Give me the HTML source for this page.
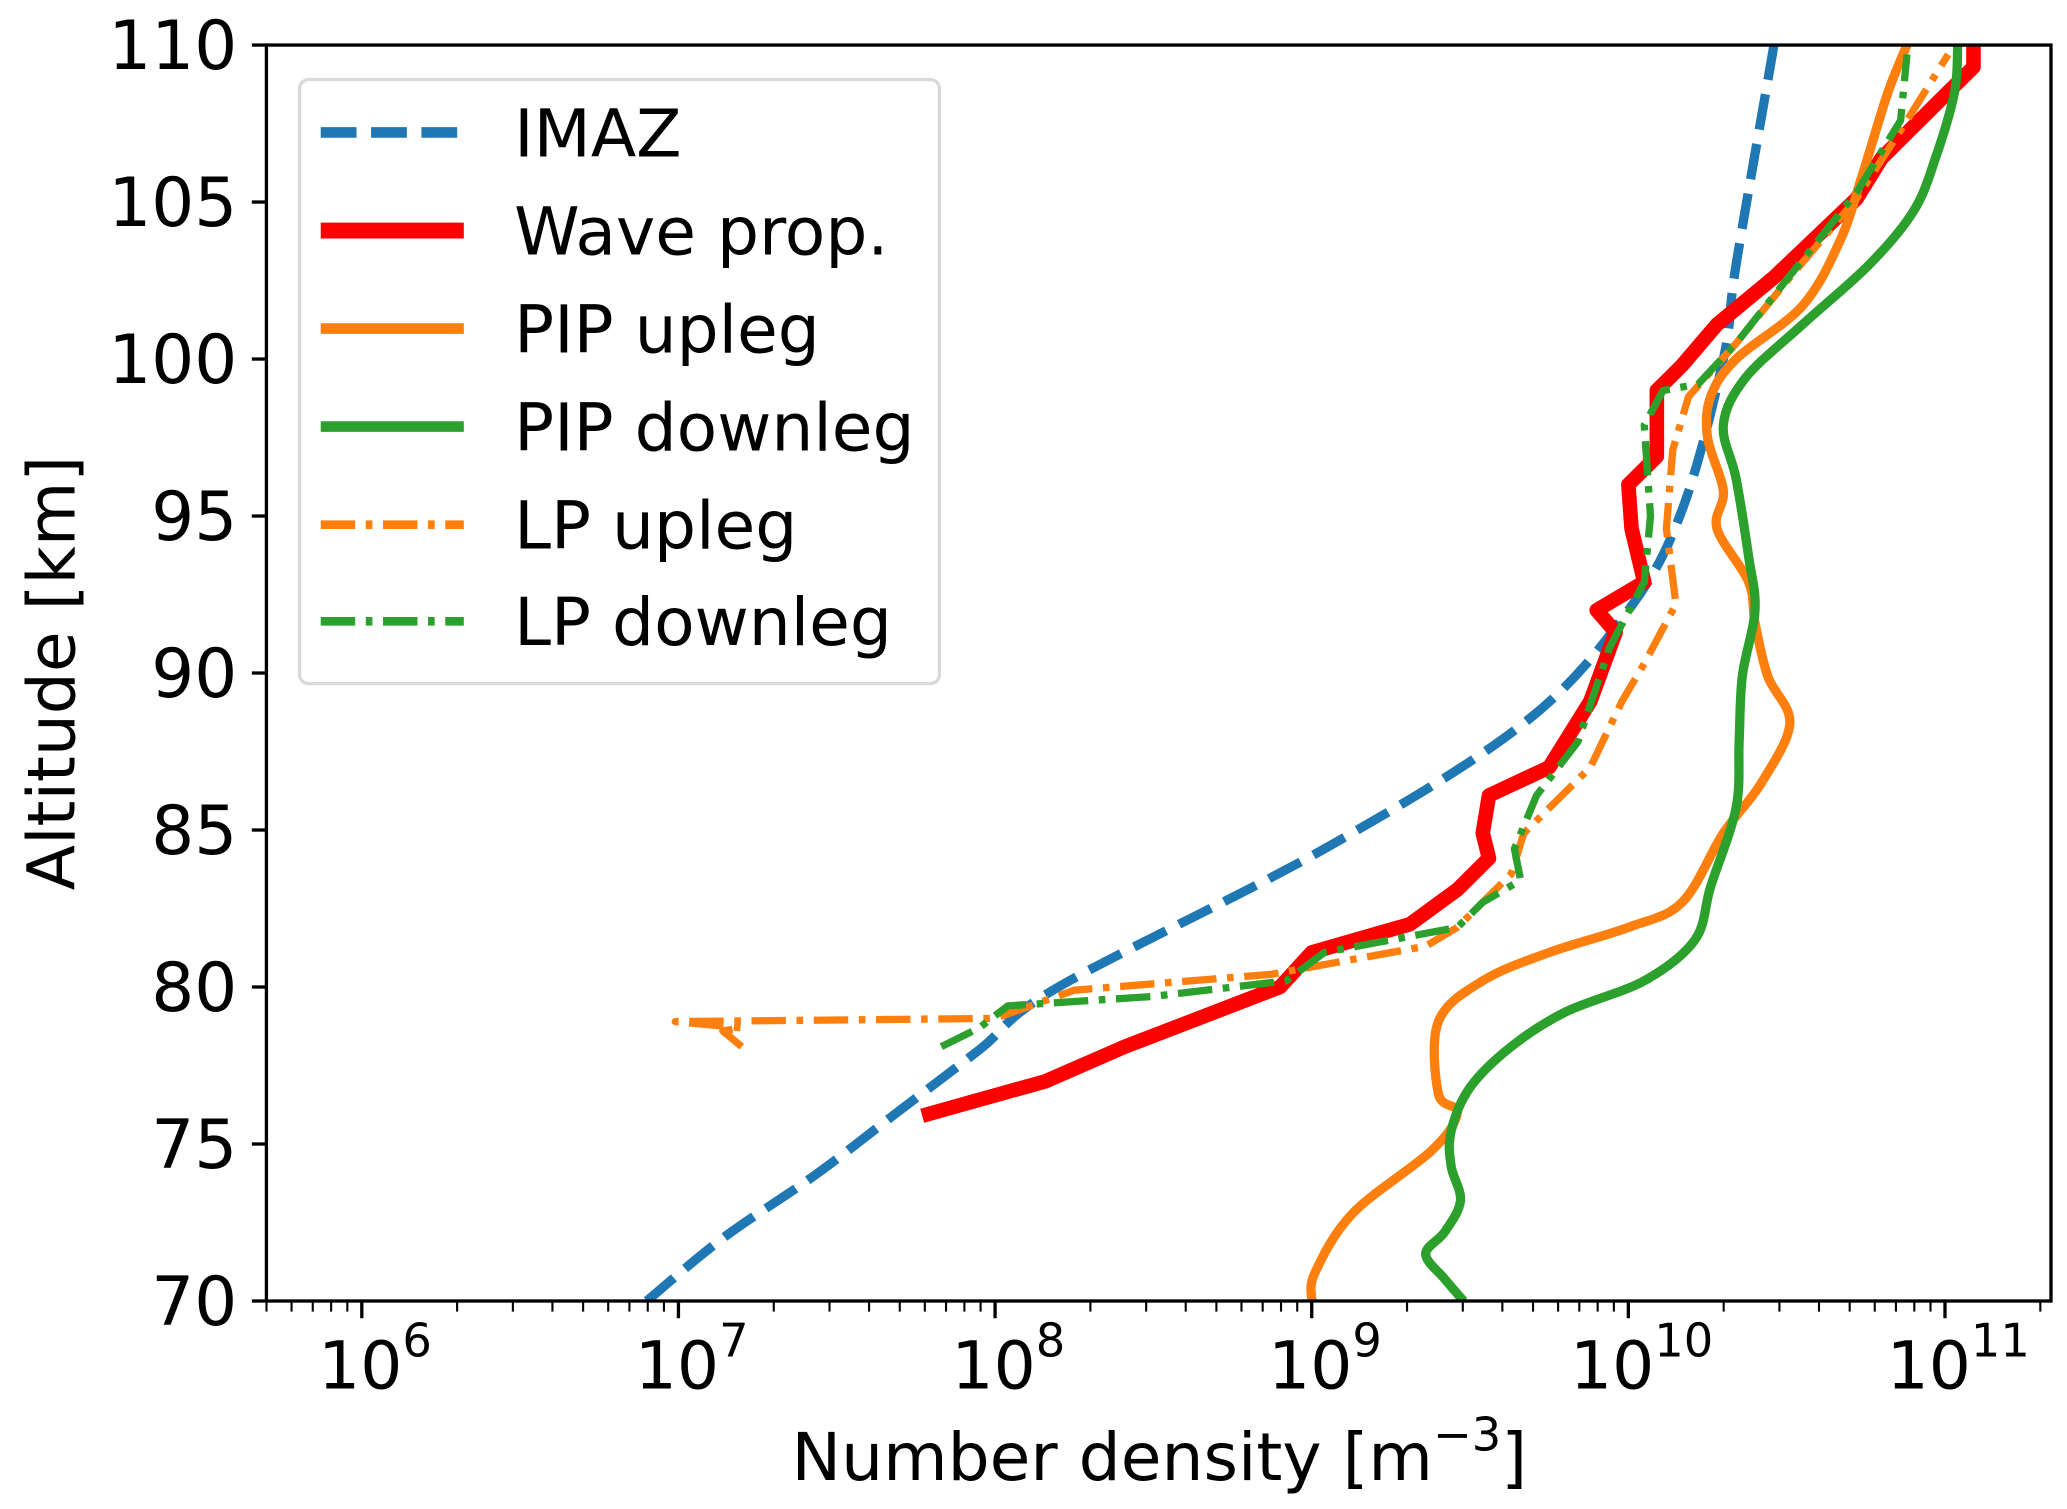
<!DOCTYPE html>
<html><head><meta charset="utf-8"><style>
html,body{margin:0;padding:0;background:#fff}
svg{display:block;font-family:"DejaVu Sans","Liberation Sans",sans-serif}
</style></head><body>
<svg id="chart" width="2067" height="1509" viewBox="0 0 1560 1139" xmlns="http://www.w3.org/2000/svg">
<rect width="1560" height="1139" fill="#fff"/>
<g id="plot"></g>
<g id="axes"></g>
<g id="legend"></g>
</svg>
<script>
// data: altitudes (km) and log10 number density (m^-3)
const imazAlt = [70, 72, 74, 76, 78, 80.0, 84.4, 88.4, 92.0, 95.2, 100.0, 103.0, 110];
const imazLog = [6.90, 7.14, 7.43, 7.69, 7.95, 8.20, 9.04, 9.67, 10.00, 10.17, 10.30, 10.34, 10.46];
const waveAlt = [75.9, 77.0, 78.1, 80.0, 81.1, 82.0, 83.1, 84.1, 84.9, 86.1, 87.0, 89.1, 91.3, 92.0, 92.9, 94.6, 96.0, 96.9, 99.0, 99.8, 101.1, 102.6, 105.1, 106.4, 108.1, 109.3, 110];
const waveLog = [7.77, 8.16, 8.41, 8.90, 9.00, 9.31, 9.46, 9.56, 9.54, 9.56, 9.75, 9.88, 9.96, 9.90, 10.05, 10.01, 10.00, 10.09, 10.09, 10.17, 10.28, 10.46, 10.72, 10.80, 10.97, 11.09, 11.09];
const pipUpAlt = [70, 70.9, 72.8, 74.8, 76.0, 76.6, 78.9, 80.2, 81.1, 81.9, 82.7, 84.9, 86.5, 88.4, 89.9, 91.6, 92.9, 94.6, 95.8, 97.5, 98.8, 100, 101.7, 103.8, 105.9, 108.5, 110];
const pipUpLog = [9.00, 9.01, 9.13, 9.38, 9.46, 9.40, 9.40, 9.54, 9.75, 10.00, 10.17, 10.30, 10.42, 10.51, 10.44, 10.40, 10.38, 10.28, 10.30, 10.25, 10.26, 10.34, 10.55, 10.67, 10.74, 10.82, 10.88];
const pipDnAlt = [70, 70.7, 71.5, 72.2, 73.2, 74.3, 75.4, 76.8, 78.1, 79.2, 80.2, 81.5, 83.2, 85.7, 87.8, 89.9, 92.0, 93.7, 96.2, 97.9, 99.4, 101.1, 103, 104.7, 106.4, 108.5, 110];
const pipDnLog = [9.48, 9.42, 9.36, 9.42, 9.47, 9.44, 9.44, 9.50, 9.63, 9.80, 10.05, 10.21, 10.26, 10.34, 10.35, 10.36, 10.40, 10.38, 10.34, 10.30, 10.37, 10.55, 10.76, 10.90, 10.97, 11.03, 11.04];
const lpUpAlt = [78.1, 78.6, 78.7, 78.9, 79.0, 79.9, 80.4, 81.3, 81.9, 83.6, 84.9, 85.7, 87.0, 89.1, 90.3, 92.2, 94.6, 97.1, 98.8, 100.5, 102.6, 105.1, 107.6, 109.7];
const lpUpLog = [7.20, 7.14, 7.20, 6.99, 8.00, 8.25, 8.87, 9.36, 9.46, 9.63, 9.67, 9.75, 9.88, 9.98, 10.05, 10.15, 10.12, 10.14, 10.19, 10.34, 10.51, 10.72, 10.88, 11.01];
const lpDnAlt = [78.1, 78.7, 79.4, 79.7, 80.2, 81.1, 81.9, 82.7, 83.4, 84.4, 86.1, 87.8, 90.8, 92.9, 95.0, 97.9, 99.0, 99.2, 100.5, 102.4, 105.3, 107.6, 109.7];
const lpDnLog = [7.83, 7.95, 8.04, 8.50, 8.92, 9.04, 9.46, 9.54, 9.66, 9.64, 9.71, 9.84, 9.94, 10.05, 10.07, 10.05, 10.11, 10.22, 10.34, 10.49, 10.72, 10.86, 10.88];
const yTicks = [70, 75, 80, 85, 90, 95, 100, 105, 110];
const xDecades = [6, 7, 8, 9, 10, 11];
const legendLabels = ["IMAZ", "Wave prop.", "PIP upleg", "PIP downleg", "LP upleg", "LP downleg"];

const L = 201, R = 1548, T = 34, B = 982;
const xMin = 6 - 72/239, xMax = 11 + 80/239;
const X = v => L + (v - xMin) / (xMax - xMin) * (R - L);
const Y = a => B - (a - 70) / 40 * (B - T);
const NS = "http://www.w3.org/2000/svg";
function mk(tag, attrs, parent) {
  const e = document.createElementNS(NS, tag);
  for (const k in attrs) e.setAttribute(k, attrs[k]);
  parent.appendChild(e);
  return e;
}
function smoothPath(p) {
  let d = 'M' + p[0][0].toFixed(1) + ',' + p[0][1].toFixed(1);
  for (let i = 0; i < p.length - 1; i++) {
    const p0 = p[i > 0 ? i - 1 : 0], p1 = p[i], p2 = p[i + 1], p3 = p[i + 2 < p.length ? i + 2 : p.length - 1];
    const c1x = p1[0] + (p2[0] - p0[0]) / 6, c1y = p1[1] + (p2[1] - p0[1]) / 6;
    const c2x = p2[0] - (p3[0] - p1[0]) / 6, c2y = p2[1] - (p3[1] - p1[1]) / 6;
    d += ' C' + [c1x, c1y, c2x, c2y, p2[0], p2[1]].map(v => v.toFixed(1)).join(',');
  }
  return d;
}
const plot = document.getElementById('plot');
const axes = document.getElementById('axes');
const legend = document.getElementById('legend');
mk('defs', {}, plot).innerHTML = '<clipPath id="clip"><rect x="201" y="34" width="1347" height="948"/></clipPath>';
plot.setAttribute('clip-path', 'url(#clip)');

const series = [
  {alt: imazAlt, lg: imazLog, color: '#1f77b4', w: 7, dash: '27,11', name: 'imaz-line', smooth: true},
  {alt: waveAlt, lg: waveLog, color: '#ff0000', w: 11, dash: '', name: 'wave-prop-line', smooth: false},
  {alt: pipUpAlt, lg: pipUpLog, color: '#ff7f0e', w: 7, dash: '', name: 'pip-upleg-line', smooth: true},
  {alt: pipDnAlt, lg: pipDnLog, color: '#2ca02c', w: 7, dash: '', name: 'pip-downleg-line', smooth: true},
  {alt: lpUpAlt, lg: lpUpLog, color: '#ff7f0e', w: 5.5, dash: '26,8,5,8', name: 'lp-upleg-line', smooth: false},
  {alt: lpDnAlt, lg: lpDnLog, color: '#2ca02c', w: 5.5, dash: '26,8,5,8', name: 'lp-downleg-line', smooth: false}
];
series.forEach(s => {
  const pts = s.alt.map((a, i) => [X(s.lg[i]), Y(a)]);
  const d = s.smooth ? smoothPath(pts) : 'M' + pts.map(p => p[0].toFixed(1) + ',' + p[1].toFixed(1)).join(' L');
  const p = mk('path', {d: d, fill: 'none', stroke: s.color, 'stroke-width': s.w, 'stroke-dasharray': s.dash, 'stroke-linejoin': 'round'}, plot);
  
  
});

const frame = mk('rect', {x: L, y: T, width: R - L, height: B - T, fill: 'none', stroke: '#000', 'stroke-width': 2.5}, axes);



yTicks.forEach(t => {
  const y = Y(t);
  mk('line', {x1: L - 11, x2: L, y1: y, y2: y, stroke: '#000', 'stroke-width': 2.5}, axes);
  const tx = mk('text', {x: L - 22, y: y + 18, 'text-anchor': 'end', 'font-size': 51}, axes);
  tx.textContent = t;
  
  
});
for (let d = 5; d <= 11; d++) {
  for (let m = 1; m <= 9; m++) {
    const v = d + Math.log10(m);
    if (v < xMin || v > xMax) continue;
    const x = X(v);
    mk('line', {x1: x, x2: x, y1: B, y2: B + (m === 1 ? 13 : 8), stroke: '#000', 'stroke-width': m === 1 ? 2.5 : 1.6}, axes);
  }
}
xDecades.forEach(d => {
  const x = X(d);
  const tx = mk('text', {x: x + 10, y: 1048, 'text-anchor': 'middle', 'font-size': 50}, axes);
  tx.innerHTML = '10<tspan dy="-24" font-size="35">' + d + '</tspan>';
  
  
});
const xl = mk('text', {x: 875, y: 1117, 'text-anchor': 'middle', 'font-size': 50}, axes);
xl.innerHTML = 'Number density [m<tspan dy="-22" font-size="35">−3</tspan><tspan dy="22">]</tspan>';


const yl = mk('text', {x: 0, y: 0, 'text-anchor': 'middle', 'font-size': 50, transform: 'translate(56,508) rotate(-90)'}, axes);
yl.textContent = 'Altitude [km]';



const box = mk('rect', {x: 226, y: 60, width: 483, height: 456, rx: 7, fill: '#fff', 'fill-opacity': 0.8, stroke: '#d9d9d9', 'stroke-width': 2.5}, legend);


const legY = [100, 174, 248, 322, 396, 469];
series.forEach((s, i) => {
  const g = mk('g', {}, legend);
  
  
  mk('line', {x1: 242, x2: 350, y1: legY[i], y2: legY[i], stroke: s.color, 'stroke-width': s.w + 1, 'stroke-dasharray': s.dash}, g);
  const t = mk('text', {x: 388, y: legY[i] + 18, 'font-size': 50}, g);
  t.textContent = legendLabels[i];
});
</script>
</body></html>
